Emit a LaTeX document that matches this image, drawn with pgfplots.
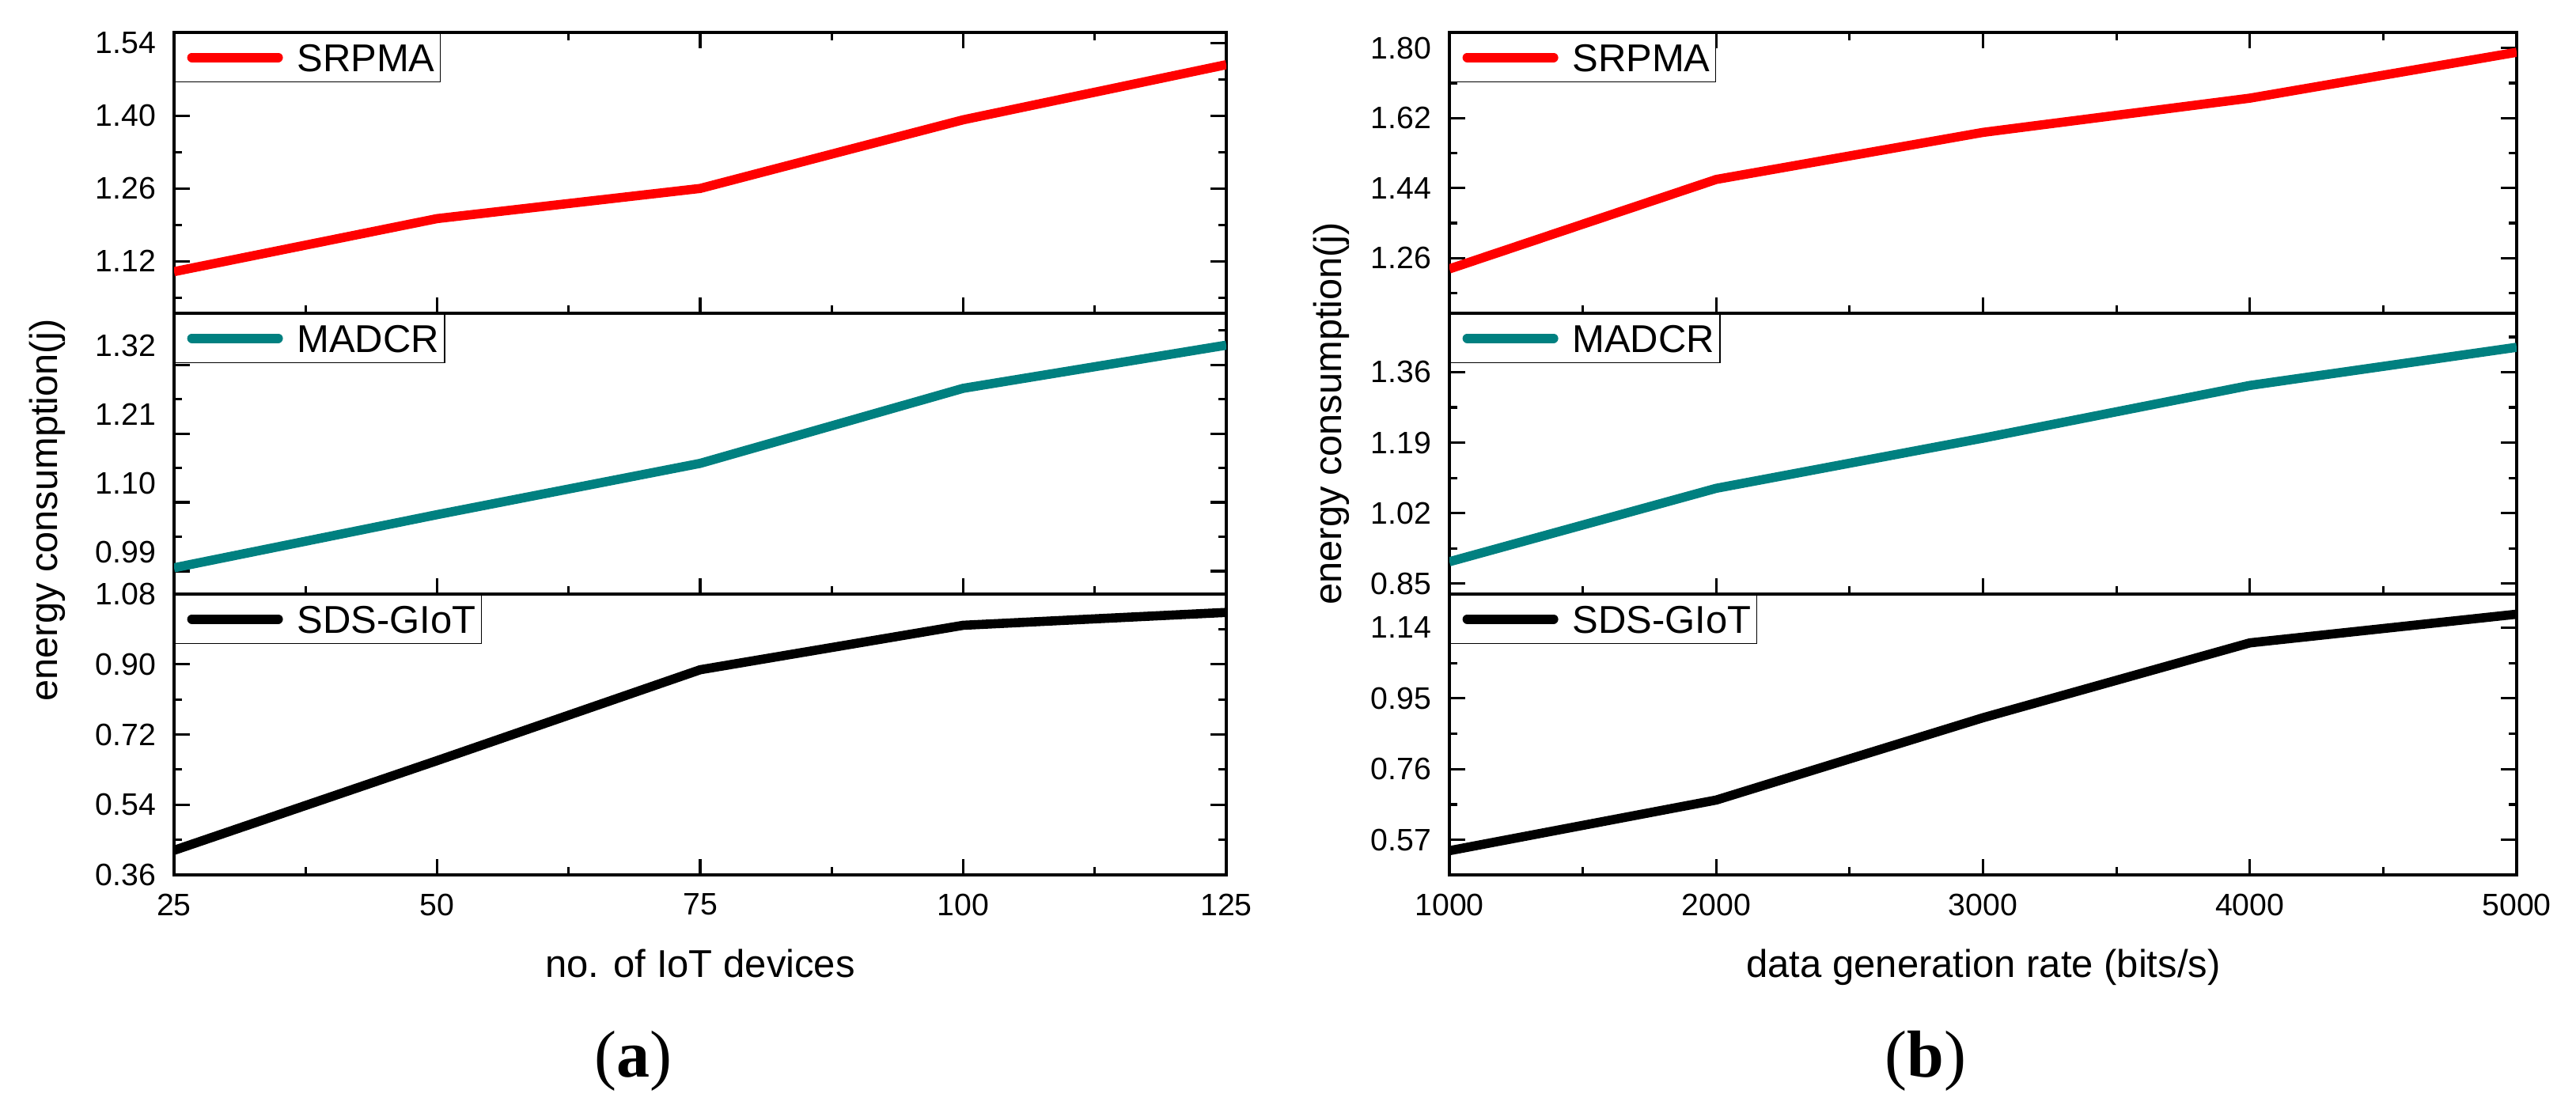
\documentclass[border=0pt]{standalone}
\usepackage{pgfplots}
\pgfplotsset{compat=1.18}
\usepackage{fontspec}
\setmainfont{Liberation Sans}
\newfontfamily\capfont{Liberation Serif}

\definecolor{srpma}{RGB}{255,0,0}
\definecolor{madcr}{RGB}{0,128,128}

\pgfplotsset{
  panel/.style={
    scale only axis,
    anchor=south west,
    axis line style={line width=1pt},
    every tick/.style={black, line width=0.8pt},
    tick align=inside,
    major tick length=4.9pt,
    minor tick length=2.5pt,
    ytick pos=both,
    yticklabel pos=left,
    ticklabel style={font=\fontsize{9.8}{11}\selectfont, inner sep=0pt},
    yticklabel style={xshift=-5.5pt},
    xticklabel style={yshift=-5.75pt},
    /pgf/number format/assume math mode=true,
    legend cell align=left,
    legend style={at={(rel axis cs:0,1)}, anchor=north west,
      draw=black, line width=0.4pt, fill=white,
      inner xsep=1.75pt, inner ysep=3.3pt, column sep=3pt,
      font=\fontsize{12.25}{14}\selectfont,
      nodes={inner sep=0pt, text height=8.8pt, text depth=0pt}},
    legend image code/.code={
      \path (0pt,0pt) (31pt,0pt);
      \draw[#1, line width=3pt, line cap=round] (2.25pt,0pt) -- (29.5pt,0pt);},
  },
  leftpanel/.style={panel, width=332.5pt, height=88.75pt,
    xmin=25, xmax=125,
    xtick={25,50,75,100,125}, xticklabels={25,50,75,100,125},
    minor xtick={37.5,62.5,87.5,112.5}},
  rightpanel/.style={panel, width=337.25pt, height=88.75pt,
    xmin=1000, xmax=5000,
    xtick={1000,2000,3000,4000,5000}, xticklabels={1000,2000,3000,4000,5000},
    minor xtick={1500,2500,3500,4500}},
  toprow/.style={xtick pos=both, xticklabels={}},
  midrow/.style={xtick pos=bottom, xticklabels={}},
  botrow/.style={xtick pos=bottom},
  data/.style={line width=2.9pt, line join=round},
}

\begin{document}
\begin{tikzpicture}
\useasboundingbox (0pt,0pt) rectangle (814pt,351.5pt);

% ---------- (a) ----------
\begin{axis}[leftpanel, toprow, at={(55pt,252.5pt)},
  ymin=1.02, ymax=1.56,
  ytick={1.12,1.26,1.40,1.54}, yticklabels={1.12,1.26,1.40,1.54},
  minor ytick={1.05,1.19,1.33,1.47}]
\addplot[data, color=srpma] coordinates {
  (25,1.100) (50,1.202) (75,1.260) (100,1.392) (125,1.498)};
\addlegendentry{SRPMA}
\end{axis}

% labels sit between the ticks in this panel
\begin{axis}[leftpanel, midrow, at={(55pt,163.75pt)},
  ymin=0.923, ymax=1.372,
  ytick={0.9596,1.0696,1.1796,1.2896}, yticklabels={0.99,1.10,1.21,1.32},
  yticklabel style={yshift=6pt},
  minor ytick={1.0146,1.1246,1.2346,1.3446}]
\addplot[data, color=madcr] coordinates {
  (25,0.965) (50,1.050) (75,1.132) (100,1.252) (125,1.321)};
\addlegendentry{MADCR}
\end{axis}

\begin{axis}[leftpanel, botrow, at={(55pt,75pt)},
  ymin=0.36, ymax=1.08,
  ytick={0.36,0.54,0.72,0.90,1.08}, yticklabels={0.36,0.54,0.72,0.90,1.08},
  minor ytick={0.45,0.63,0.81,0.99}]
\addplot[data, color=black] coordinates {
  (25,0.423) (50,0.653) (75,0.886) (100,1.000) (125,1.033)};
\addlegendentry{SDS-GIoT}
\end{axis}

% ---------- (b) ----------
\begin{axis}[rightpanel, toprow, at={(458pt,252.5pt)},
  ymin=1.118, ymax=1.84,
  ytick={1.26,1.44,1.62,1.80}, yticklabels={1.26,1.44,1.62,1.80},
  minor ytick={1.17,1.35,1.53,1.71}]
\addplot[data, color=srpma] coordinates {
  (1000,1.232) (2000,1.462) (3000,1.583) (4000,1.671) (5000,1.789)};
\addlegendentry{SRPMA}
\end{axis}

\begin{axis}[rightpanel, midrow, at={(458pt,163.75pt)},
  ymin=0.825, ymax=1.502,
  ytick={0.85,1.02,1.19,1.36}, yticklabels={0.85,1.02,1.19,1.36},
  minor ytick={0.935,1.105,1.275,1.445}]
\addplot[data, color=madcr] coordinates {
  (1000,0.903) (2000,1.080) (3000,1.201) (4000,1.328) (5000,1.420)};
\addlegendentry{MADCR}
\end{axis}

\begin{axis}[rightpanel, botrow, at={(458pt,75pt)},
  ymin=0.476, ymax=1.230,
  ytick={0.57,0.76,0.95,1.14}, yticklabels={0.57,0.76,0.95,1.14},
  minor ytick={0.665,0.855,1.045}]
\addplot[data, color=black] coordinates {
  (1000,0.541) (2000,0.677) (3000,0.898) (4000,1.099) (5000,1.176)};
\addlegendentry{SDS-GIoT}
\end{axis}

% axis labels and captions
\node[rotate=90, anchor=base, font=\fontsize{12.2}{14}\selectfont] at (18.1pt,190.25pt) {energy consumption(j)};
\node[rotate=90, anchor=base, font=\fontsize{12.2}{14}\selectfont] at (423.75pt,220.75pt) {energy consumption(j)};
\node[anchor=base, font=\fontsize{12.25}{14}\selectfont] at (221.25pt,42.75pt) {no. of IoT devices};
\node[anchor=base, font=\fontsize{12.25}{14}\selectfont] at (626.75pt,42.75pt) {data generation rate (bits/s)};
\node[anchor=base, font=\capfont\fontsize{21}{24}\selectfont] at (200pt,11.25pt) {(\textbf{a})};
\node[anchor=base, font=\capfont\fontsize{21}{24}\selectfont] at (608.5pt,11.25pt) {(\textbf{b})};
\end{tikzpicture}
\end{document}
